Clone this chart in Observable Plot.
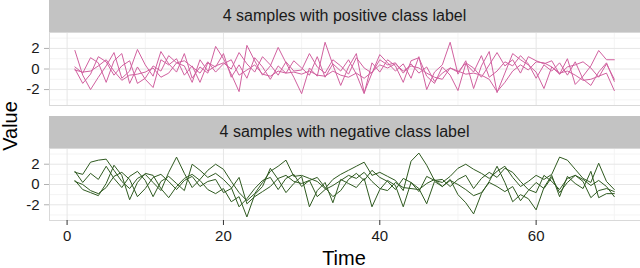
<!DOCTYPE html>
<html>
<head>
<meta charset="utf-8">
<script src="https://cdn.jsdelivr.net/npm/d3@7"></script>
<script src="https://cdn.jsdelivr.net/npm/@observablehq/plot@0.6"></script>
<style>
  body { margin: 0; background: #fff; }
  #chart { position: relative; width: 640px; height: 268px; overflow: hidden; font-family: "Liberation Sans", Arial, sans-serif; background: #fff; }
  .strip { position: absolute; left: 49px; width: 591px; height: 32px; background: #c3c3c3; color: #1a1a1a; font-size: 16px; line-height: 32px; text-align: center; }
  .panel { position: absolute; left: 0; }
  #ylab { position: absolute; left: 10px; top: 126px; transform: translate(-50%, -50%) rotate(-90deg); font-size: 20px; color: #000; white-space: nowrap; }
  #xlab { position: absolute; left: 344px; top: 258px; transform: translate(-50%, -50%); font-size: 20px; color: #000; white-space: nowrap; }
</style>
</head>
<body>
<div id="chart">
  <div class="strip" id="strip1" style="top:0px"></div>
  <div class="panel" id="p1" style="top:32px"></div>
  <div class="strip" id="strip2" style="top:116px"></div>
  <div class="panel" id="p2" style="top:148px"></div>
  <div id="ylab"></div>
  <div id="xlab"></div>
</div>
<script>
// ---- Data ----
const panelTitles = ["4 samples with positive class label", "4 samples with negative class label"];
const xTitle = "Time";
const yTitle = "Value";
const xTicks = [0, 20, 40, 60];
const yTicks = [-2, 0, 2];

const pos1 = [1.8,-0.6,-2.0,-0.8,0.3,1.6,-0.9,-0.2,1.9,0.4, -0.7,1.7,0.5,-0.3,1.5,-0.9,0.2,-0.4,2.2,1.0,
  -0.5,-2.2,2.3,0.8,-0.6,0.3,2.1,0.6,-0.8,-2.4, 0.1,-0.7,2.6,0.4,-1.6,0.2,1.5,-2.3,-0.4,1.4,
  0.6,-0.2,0.5,-0.9,1.2,-2.0,-0.3,0.4,2.6,-0.5, 0.8,-1.9,0.3,1.7,-2.3,-0.4,1.5,0.9,0.4,-0.3,
  -1.9,0.2,-0.5,1.0,-1.5,-0.7,0.3,1.8,0.9,0.9];
const pos2 = [0.2,-0.4,1.1,0.6,-1.3,0.8,1.5,-1.4,0.2,-1.0, -1.8,0.9,0.4,1.0,-0.6,0.3,-1.3,0.6,0.2,1.5,
  -0.8,0.4,-0.9,1.1,0.2,-1.0,0.3,-0.4,0.8,0.1, -0.6,1.2,-0.8,0.5,-0.2,0.9,-0.5,-2.4,0.6,-0.3,
  0.9,0.3,-1.3,0.8,1.1,-0.7,-1.4,0.2,-0.6,-2.1, 0.5,-0.3,1.3,-0.8,-0.2,0.7,0.3,1.3,0.5,-0.9,
  0.4,-0.2,0.6,-0.6,0.7,-1.0,-1.6,-0.3,0.6,-1.2];
const pos3 = [-0.1,-0.3,-0.2,0.3,0.9,-0.2,-1.1,-0.6,-0.5,-0.3, 0.1,-0.8,-0.4,0.6,0.8,0.2,-0.4,0.7,-0.3,0.5,
  0.9,-0.6,-0.1,0.4,-0.5,-0.7,-0.2,-0.4,-0.3,-0.5, -0.2,-0.6,-0.7,-0.2,-0.6,-0.8,-0.4,-0.9,-0.3,0.4,
  0.1,0.5,-0.2,0.3,0.1,-0.4,-0.8,-1.0,0.1,-0.2, -0.5,-0.4,-0.6,-1.0,-2.2,-1.3,-0.2,0.4,-0.1,0.7,
  0.6,0.2,-0.4,-0.2,-0.6,-1.1,-1.0,-0.7,-0.4,-2.1];
const pos4 = [0.0,-1.4,-0.5,1.2,0.7,-0.6,0.3,0.8,-1.4,-0.9, 0.3,-0.2,1.3,0.6,0.3,-1.3,0.9,-0.2,0.3,0.6,
  0.0,1.6,0.5,-0.3,1.2,0.4,-0.6,0.7,-0.2,-0.1, 1.5,0.2,-0.4,0.9,0.3,-0.5,1.1,0.1,-0.4,0.9,
  0.4,0.6,-0.4,0.5,-0.4,0.2,-1.2,-0.4,0.1,-0.3, 0.6,0.1,-0.8,0.4,1.6,0.3,0.9,-0.4,1.2,0.8,
  0.5,0.8,-0.5,0.2,0.4,0.7,0.1,-0.8,0.5,-1.0];

const neg1 = [1.2,1.0,2.2,2.4,2.5,1.4,0.3,-0.4,0.6,1.0, 0.2,-0.6,1.2,2.7,1.1,-0.3,0.5,1.4,2.0,1.5,
  0.3,-0.8,-1.6,-0.9,0.2,1.3,1.8,2.4,0.8,0.9, 0.6,0.3,-0.4,0.5,1.0,1.4,1.8,2.2,0.9,1.2,
  0.8,0.4,-0.6,2.3,3.1,1.9,0.4,0.2,0.8,1.6, 2.0,1.5,1.1,0.6,1.3,1.8,0.7,-0.2,0.3,0.9,
  0.5,1.0,2.7,2.4,1.5,0.6,0.2,2.1,0.3,-0.5];
const neg2 = [0.4,-0.5,-0.8,-1.1,0.1,1.9,0.9,-1.5,0.2,1.1, 0.9,-0.4,-1.3,-0.2,0.6,1.0,0.4,-0.5,-0.9,-0.4,
  -1.7,-1.2,-3.2,-1.0,-0.2,1.6,0.5,-0.8,0.1,0.8, -2.2,-0.6,0.2,-1.8,0.5,0.1,-0.3,0.6,-2.2,-0.5,
  0.4,-0.1,-2.2,0.2,-0.4,-1.9,0.3,-0.2,0.5,-1.0, -1.8,-2.9,-0.9,0.3,1.8,0.2,-1.7,-1.0,-1.4,-2.5,
  -0.3,0.9,-1.2,0.8,0.1,-0.4,1.3,-1.3,-0.9,-0.9];
const neg3 = [1.3,0.2,1.1,0.5,1.8,0.6,-0.3,0.8,1.3,0.4, -1.2,0.3,0.8,0.1,-0.6,2.0,1.4,0.7,1.1,0.5,
  -0.3,-2.2,-1.4,-0.4,0.4,0.7,-0.5,0.6,1.0,-0.2, 0.4,0.7,-0.3,-1.2,-0.6,0.5,1.1,0.4,1.4,0.7,
  0.3,-0.5,0.6,0.2,-0.7,0.8,0.4,0.5,-0.2,0.5, 0.9,-0.4,0.6,1.2,0.7,1.6,1.2,0.3,-0.5,-0.8,
  0.9,0.3,-0.5,0.6,0.9,0.5,-0.1,0.4,-0.2,-1.2];
const neg4 = [0.3,0.0,-0.6,-0.9,-0.3,0.8,1.2,0.5,-1.2,-0.4, 0.7,1.0,0.3,-0.5,0.4,0.8,-0.2,0.3,0.5,-0.8,
  -0.4,0.7,-1.9,-1.2,-0.7,-0.2,0.6,0.9,0.3,0.1, 0.4,-1.2,-0.5,-0.1,0.4,0.9,0.6,1.2,0.3,-0.4,
  -0.6,0.2,-0.3,-0.4,-0.5,0.1,0.5,-0.2,0.4,0.0, -0.5,-1.1,-0.8,0.2,-0.2,-0.7,-0.2,-1.6,-0.6,0.2,
  -0.4,0.7,-0.8,0.2,0.9,0.3,-1.3,-0.6,-0.4,-0.7];

const posSeries = [pos1, pos2, pos3, pos4];
const negSeries = [neg1, neg2, neg3, neg4];
const posColor = "#d1609f";
const negColor = "#2f5a20";

// ---- Build tables ----
function toRows(seriesList) {
  const rows = [];
  seriesList.forEach((vals, s) => vals.forEach((v, i) => rows.push({s, t: i + 1, v})));
  return rows;
}

const font = '"Liberation Sans", Arial, sans-serif';
const xDomain = [-2.25, 73.35];
const yDomain = [-3.55, 3.55];

function panel(rows, color, height, withXAxis) {
  const marks = [
    Plot.gridY([-3, -1, 1, 3], {stroke: "#f4f4f4", strokeOpacity: 1}),
    Plot.gridX([10, 30, 50, 70], {stroke: "#f4f4f4", strokeOpacity: 1}),
    Plot.gridY(yTicks, {stroke: "#e6e6e6", strokeOpacity: 1}),
    Plot.gridX(xTicks, {stroke: "#e6e6e6", strokeOpacity: 1}),
    Plot.frame({stroke: "#d9d9d9"}),
    Plot.axisY(yTicks, {tickSize: 5, stroke: "#b0b0b0", text: null, label: null}),
    Plot.axisY(yTicks, {tickSize: 0, tickPadding: 10, fill: "#1a1a1a", fontSize: 15, tickFormat: d => String(d), label: null}),
    Plot.lineY(rows, {x: "t", y: "v", z: "s", stroke: color, strokeWidth: 1})
  ];
  if (withXAxis) {
    marks.push(Plot.axisX(xTicks, {tickSize: 5, tickPadding: 5, stroke: "#333", fill: "#1a1a1a", fontSize: 15, tickFormat: d => String(d), label: null}));
  }
  return Plot.plot({
    width: 640,
    height: height,
    marginLeft: 49,
    marginRight: 0,
    marginTop: 0,
    marginBottom: withXAxis ? 48 : 0,
    x: {domain: xDomain, axis: null},
    y: {domain: yDomain, axis: null},
    style: {fontFamily: font, background: "transparent", overflow: "visible"},
    marks
  });
}

document.getElementById("strip1").textContent = panelTitles[0];
document.getElementById("strip2").textContent = panelTitles[1];
document.getElementById("ylab").textContent = yTitle;
document.getElementById("xlab").textContent = xTitle;
document.getElementById("p1").appendChild(panel(toRows(posSeries), posColor, 73, false));
document.getElementById("p2").appendChild(panel(toRows(negSeries), negColor, 120, true));
</script>
</body>
</html>
